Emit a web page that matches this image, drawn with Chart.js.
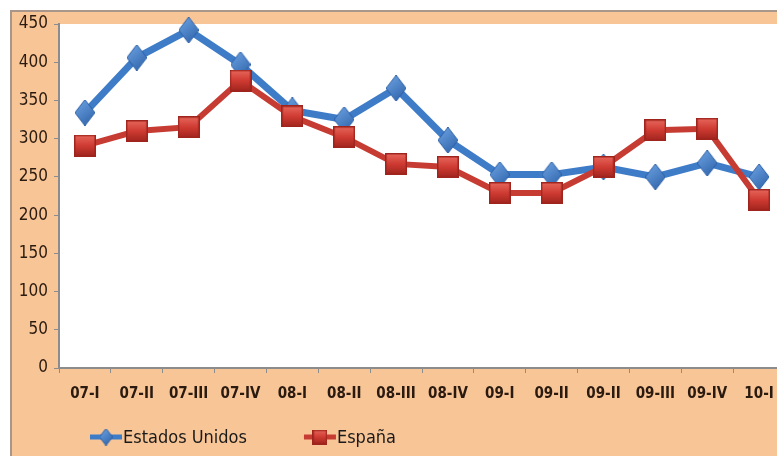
<!DOCTYPE html>
<html>
<head>
<meta charset="utf-8">
<script src="https://cdn.jsdelivr.net/npm/chart.js@4.4.0/dist/chart.umd.min.js"></script>
<style>
  html, body { margin: 0; padding: 0; background: #fff; overflow: hidden; width: 777px; height: 456px; }
  #box {
    position: absolute; left: 10px; top: 10px;
    width: 790px; height: 446px;
    background: #f8c596;
    border-top: 2px solid #a9968a;
    border-left: 2px solid #a9968a;
  }
  canvas { display: block; }
</style>
</head>
<body>
<div id="box"><canvas id="chart" width="790" height="446"></canvas></div>
<script>
// --- data ---
const quarters = ['07-I', '07-II', '07-III', '07-IV', '08-I', '08-II', '08-III', '08-IV',
                  '09-I', '09-II', '09-II', '09-III', '09-IV', '10-I'];
const usaValues   = [334, 406, 442, 397, 337, 325, 366, 298, 253, 253, 263, 250, 268, 250];
const spainValues = [291, 310, 315, 376, 329, 302, 267, 263, 229, 229, 263, 311, 313, 220];
const seriesNames = ['Estados Unidos', 'España'];
const yTicks = [0, 50, 100, 150, 200, 250, 300, 350, 400, 450];

const FONT = '"DejaVu Sans Condensed", "Liberation Sans Narrow", "DejaVu Sans", sans-serif';
const AXIS = '#8c8c8c';
const TEXT = '#2a1a10';

// 3D-ish markers like the office chart
function diamond(w, h, light, dark) {
  const c = document.createElement('canvas');
  c.width = w; c.height = h;
  const g = c.getContext('2d');
  const grad = g.createLinearGradient(0, 0, w, h);
  grad.addColorStop(0, light);
  grad.addColorStop(1, dark);
  g.fillStyle = grad;
  g.beginPath();
  g.moveTo(w / 2, 0); g.lineTo(w, h / 2); g.lineTo(w / 2, h); g.lineTo(0, h / 2);
  g.closePath();
  g.fill();
  g.strokeStyle = dark; g.lineWidth = 1; g.stroke();
  return c;
}

function square(s, light, dark) {
  const c = document.createElement('canvas');
  c.width = s; c.height = s;
  const g = c.getContext('2d');
  const grad = g.createLinearGradient(0, 0, 0, s);
  grad.addColorStop(0, light);
  grad.addColorStop(0.5, '#cf3b32');
  grad.addColorStop(1, dark);
  g.fillStyle = grad;
  g.fillRect(0, 0, s, s);
  g.strokeStyle = dark; g.lineWidth = 1.5;
  g.strokeRect(0.75, 0.75, s - 1.5, s - 1.5);
  return c;
}

const blueMark = diamond(20, 26, '#6fa6e6', '#2c5fa6');
const redMark = square(22, '#e8695e', '#9e241d');
const blueMarkSmall = diamond(13, 17, '#6fa6e6', '#2c5fa6');
const redMarkSmall = square(15, '#e8695e', '#9e241d');

const plotBg = {
  id: 'plotBg',
  beforeDraw(chart) {
    const a = chart.chartArea, ctx = chart.ctx;
    ctx.save();
    ctx.fillStyle = '#ffffff';
    ctx.fillRect(a.left, a.top, a.right - a.left, a.bottom - a.top);
    ctx.restore();
  }
};

// legend with line + marker like the original
const lineLegend = {
  id: 'lineLegend',
  afterDraw(chart) {
    const ctx = chart.ctx;
    const y = 425;
    let x = 78;
    const icons = [blueMarkSmall, redMarkSmall];
    ctx.save();
    ctx.font = '18px ' + FONT;
    ctx.textBaseline = 'middle';
    chart.data.datasets.forEach((ds, i) => {
      ctx.strokeStyle = ds.borderColor;
      ctx.lineWidth = 5;
      ctx.beginPath();
      ctx.moveTo(x, y); ctx.lineTo(x + 32, y);
      ctx.stroke();
      const ic = icons[i];
      ctx.drawImage(ic, x + 16 - ic.width / 2, y - ic.height / 2);
      ctx.fillStyle = '#1a1a1a';
      ctx.fillText(ds.label, x + 33, y + 1);
      x += 33 + ctx.measureText(ds.label).width + 57;
    });
    ctx.restore();
  }
};

new Chart(document.getElementById('chart'), {
  type: 'line',
  data: {
    labels: quarters,
    datasets: [{
      label: seriesNames[0],
      data: usaValues,
      borderColor: '#3f7cc8',
      borderWidth: 7,
      pointStyle: blueMark,
      pointRadius: 10,
      tension: 0,
      clip: false,
      order: 2
    }, {
      label: seriesNames[1],
      data: spainValues,
      borderColor: '#c63c33',
      borderWidth: 6,
      pointStyle: redMark,
      pointRadius: 10,
      tension: 0,
      clip: false,
      order: 1
    }]
  },
  options: {
    responsive: false,
    animation: false,
    layout: { autoPadding: false, padding: { top: 12, right: 17, left: 0, bottom: 0 } },
    scales: {
      x: {
        offset: true,
        grid: { display: true, drawOnChartArea: false, offset: true, tickLength: 5, color: AXIS },
        border: { color: AXIS, width: 2 },
        ticks: {
          autoSkip: false, maxRotation: 0, padding: 12, color: TEXT,
          font: { family: FONT, size: 15, weight: 'bold' }
        },
        afterFit(scale) { scale.height = 90; }
      },
      y: {
        min: 0,
        max: yTicks[yTicks.length - 1],
        afterBuildTicks(scale) { scale.ticks = yTicks.map(v => ({ value: v })); },
        grid: { display: true, drawOnChartArea: false, tickLength: 5, color: AXIS },
        border: { color: AXIS, width: 2 },
        ticks: { padding: 6, color: TEXT, font: { family: FONT, size: 17 } },
        afterFit(scale) {
          scale.width = 47;
          scale.paddingTop = 0;
          scale.paddingBottom = 0;
        }
      }
    },
    plugins: {
      legend: { display: false },
      tooltip: { enabled: false }
    }
  },
  plugins: [plotBg, lineLegend]
});
</script>
</body>
</html>
